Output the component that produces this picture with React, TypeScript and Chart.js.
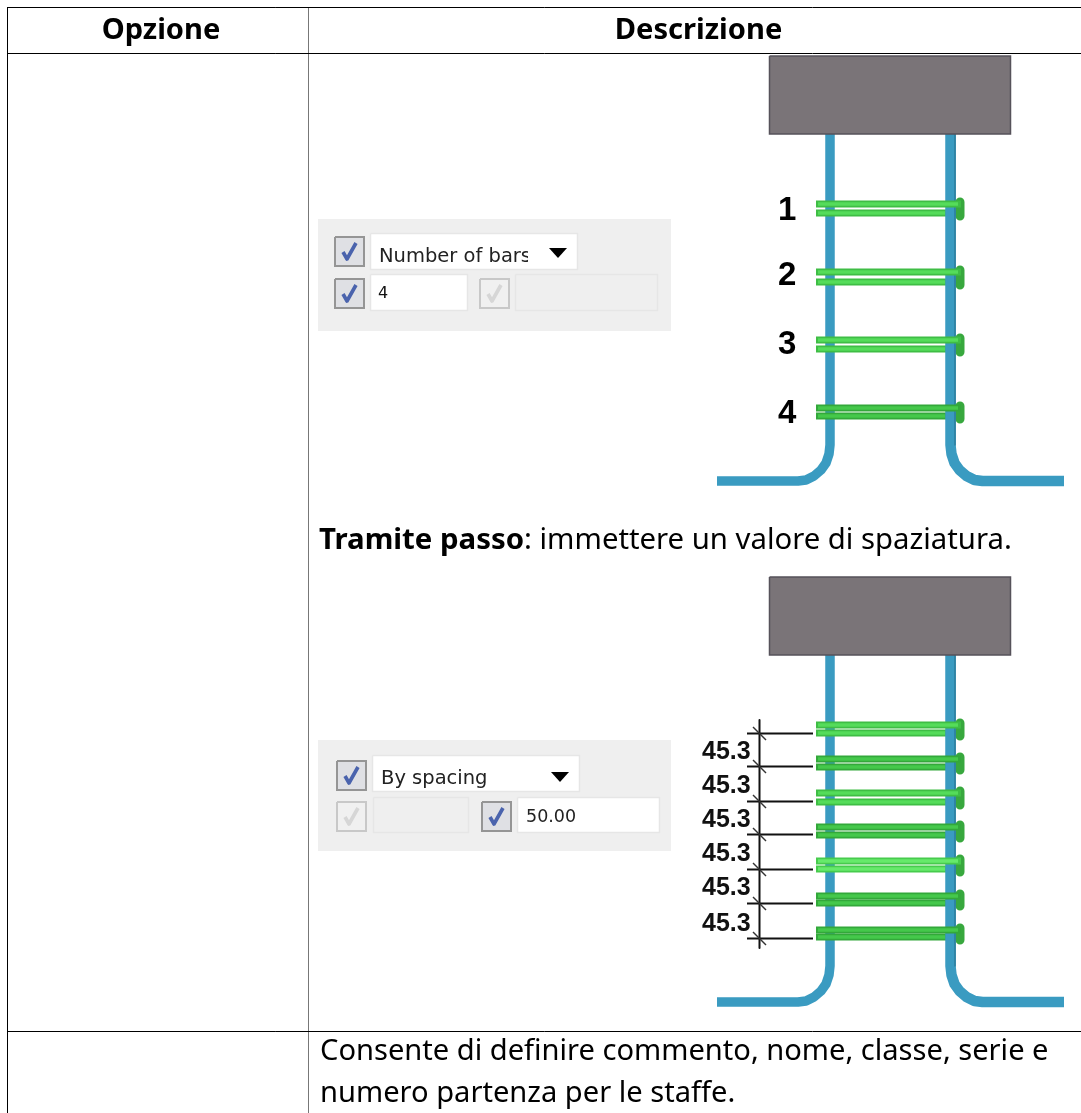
import React, { useEffect, useRef } from "react";
import { Chart, registerables } from "chart.js";

Chart.register(...registerables);

type P = { x: number; y: number };
const pts = (a: number[][]): P[] => a.map(([x, y]) => ({ x, y }));
const rect = (x0: number, y0: number, x1: number, y1: number) =>
  pts([[x0, y0], [x1, y0], [x1, y1], [x0, y1], [x0, y0]]);

const headers = ["Opzione", "Descrizione"];
const bodyLines = [
  "Consente di definire commento, nome, classe, serie e",
  "numero partenza per le staffe.",
];
const tramiteBold = "Tramite passo";
const tramiteRest = ": immettere un valore di spaziatura.";

const gridDark = [
  [[7.5, 7.5], [1081, 7.5]],
  [[7.5, 53.5], [1081, 53.5]],
  [[7.5, 1031.5], [1081, 1031.5]],
  [[7.5, 7], [7.5, 1113]],
];
const gridGray = [[[308.5, 8], [308.5, 1113]]];

const boxTops = [56, 577];
const boxBottoms = [134, 655];
const baseYs = [481, 1002];
const stirrupsA = [[204, 213, 0], [272, 282, 0], [340, 349, 0], [408, 416, 1]];
const stirrupsB = [
  [725, 733, 0], [759, 767, 1], [793, 802, 0], [827, 835, 1],
  [861, 869, 2], [896, 903, 1], [930, 937, 1],
];
const ordinalLabels = ["1", "2", "3", "4"];
const ordinalBaselines = [220, 285, 354, 423];
const dimTicks = [733, 766, 801, 834, 869, 903, 938];
const dimLabel = "45.3";
const dimBaselines = [759, 793, 827, 861, 895, 931];

function buildDatasets() {
  const ds: any[] = [];
  const line = (data: P[], color: string, width: number, extra: any = {}) =>
    ds.push({
      type: "line",
      data,
      borderColor: color,
      borderWidth: width,
      pointRadius: 0,
      tension: 0,
      borderCapStyle: "butt",
      borderJoinStyle: "round",
      fill: false,
      clip: false,
      ...extra,
    });
  const soft = (data: P[], color: string, width: number, extra: any = {}) =>
    line(data, color, width, { soft: true, ...extra });
  const shape = (data: P[], bg: string, border: string, width = 1) =>
    line(data, border, width, { fill: "shape", backgroundColor: bg, borderJoinStyle: "miter" });

  const checkbox = (x: number, y: number, on: boolean) => {
    shape(rect(x + 1, y + 1, x + 30, y + 30), on ? "#dfe0e4" : "#f0f0f0", on ? "#959595" : "#c8c8c8", 2);
    soft(pts([[x + 9, y + 16], [x + 13, y + 23], [x + 22, y + 7]]), on ? "#4a63ad" : "#d6d6d6", 3.6);
  };
  const field = (x0: number, y0: number, x1: number, y1: number, on: boolean) =>
    shape(rect(x0 + 0.5, y0 + 0.5, x1 - 0.5, y1 - 0.5), on ? "#ffffff" : "#efefef", "#e6e6e6", 1.5);

  shape(rect(318, 219, 671, 331), "#efefef", "#efefef", 0);
  checkbox(334, 236, true);
  field(370, 233, 578, 270, true);
  checkbox(334, 278, true);
  field(370, 274, 468, 311, true);
  checkbox(479, 278, false);
  field(515, 274, 658, 311, false);
  shape(pts([[549, 248], [567, 248], [558, 258], [549, 248]]), "#000", "#000", 0);

  shape(rect(318, 740, 671, 851), "#efefef", "#efefef", 0);
  checkbox(336, 760, true);
  field(372, 755, 580, 792, true);
  checkbox(336, 801, false);
  field(373, 797, 469, 833, false);
  checkbox(481, 801, true);
  field(517, 797, 660, 833, true);
  shape(pts([[551, 772], [569, 772], [560, 782], [551, 772]]), "#000", "#000", 0);

  const blue = "#3a9bc1";
  const diagram = (i: number, stirrups: number[][]) => {
    const b = baseYs[i];
    const top = boxBottoms[i];
    soft(
      pts([[830, top], [830, b - 36], [829, b - 27], [826, b - 18], [821, b - 11], [814, b - 5], [806, b - 1], [798, b], [717, b]]),
      blue,
      9.5,
    );
    const colors = [
      ["#3fbd45", "#55dc5a"],
      ["#33a83a", "#45c84b"],
      ["#47cb4d", "#66ea6b"],
    ];
    stirrups.forEach(([t, bt, k]) => {
      const c = colors[k];
      soft(pts([[816, bt], [960, bt]]), c[0], 7);
      soft(pts([[818, bt], [945, bt]]), c[1], 3.5);
      soft(pts([[960, t - 2], [960, bt + 3]]), "#38a83e", 9);
    });
    soft(
      pts([[950.5, top], [950.5, b - 36], [951.5, b - 27], [954.5, b - 18], [959.5, b - 11], [966.5, b - 5], [974.5, b - 1], [982.5, b], [1064, b]]),
      blue,
      10.5,
    );
    soft(pts([[955, top], [955, b - 36]]), "#2c7f9f", 1.6);
    stirrups.forEach(([t, , k]) => {
      const c = colors[k];
      soft(pts([[816, t], [961, t]]), c[0], 7);
      soft(pts([[818, t], [958, t]]), c[1], 3.5);
    });
    shape(rect(769.5, boxTops[i], 1010.5, top), "#7a7478", "#56525a", 1.5);
  };
  diagram(0, stirrupsA);
  diagram(1, stirrupsB);

  soft(pts([[759.5, 720], [759.5, 948]]), "#111", 2);
  dimTicks.forEach((y) => {
    soft(pts([[747, y + 0.5], [813, y + 0.5]]), "#111", 1.8);
    soft(pts([[753, y - 6], [766, y + 7]]), "#333", 1.4);
  });

  gridGray.forEach((s) => line(pts(s), "#777", 1));
  gridDark.forEach((s) => line(pts(s), "#000", 1));
  return ds;
}

const softPlugin = {
  id: "softLines",
  beforeDatasetDraw(chart: any, args: any) {
    if (chart.data.datasets[args.index].soft) chart.ctx.filter = "blur(0.5px)";
  },
  afterDatasetDraw(chart: any) {
    chart.ctx.filter = "none";
  },
};

const textPlugin = {
  id: "tableText",
  afterDatasetsDraw(chart: any) {
    const { ctx, scales } = chart;
    const X = (v: number) => scales.x.getPixelForValue(v);
    const Y = (v: number) => scales.y.getPixelForValue(v);
    const put = (s: string, x: number, y: number, font: string, color = "#000", align: CanvasTextAlign = "left") => {
      ctx.font = font;
      ctx.fillStyle = color;
      ctx.textAlign = align;
      ctx.textBaseline = "alphabetic";
      ctx.fillText(s, X(x), Y(y));
    };
    ctx.save();
    const body = '29.1px "Noto Sans"';
    const bold = 'bold 29.1px "Noto Sans"';
    put(headers[0], 161, 39, bold, "#000", "center");
    put(headers[1], 698.5, 39, bold, "#000", "center");
    put(tramiteBold, 319, 549, 'bold 29.4px "Noto Sans"');
    const w = ctx.measureText(tramiteBold).width;
    put(tramiteRest, 319 + w, 549, '29.3px "Noto Sans"');
    put(bodyLines[0], 320, 1060, body);
    put(bodyLines[1], 320, 1102, body);

    ctx.filter = "blur(0.45px)";
    ordinalLabels.forEach((s, i) => put(s, 778, ordinalBaselines[i], 'bold 33px "Liberation Sans"'));
    dimBaselines.forEach((y) => put(dimLabel, 702, y, 'bold 25px "Liberation Sans"', "#111"));

    const ui = '19.5px "DejaVu Sans"';
    ctx.save();
    ctx.beginPath();
    ctx.rect(X(375), Y(235), 153, 32);
    ctx.clip();
    put("Number of bars", 379, 262, ui, "#222");
    ctx.restore();
    put("4", 378, 298, '16px "DejaVu Sans"', "#111");
    put("By spacing", 381, 784, ui, "#222");
    put("50.00", 526, 822, '17.5px "DejaVu Sans"', "#222");
    ctx.restore();
  },
};

export default function App() {
  const ref = useRef<HTMLCanvasElement>(null);
  useEffect(() => {
    const list = buildDatasets();
    list.forEach((d, i) => (d.order = list.length - i));
    const chart = new Chart(ref.current!, {
      type: "line",
      data: { datasets: list },
      options: {
        animation: false,
        responsive: false,
        events: [],
        layout: { padding: 0 },
        plugins: { legend: { display: false }, tooltip: { enabled: false }, title: { display: false } },
        scales: {
          x: { type: "linear", min: 0, max: 1081, display: false },
          y: { type: "linear", min: 0, max: 1113, reverse: true, display: false },
        },
      },
      plugins: [softPlugin, textPlugin],
    } as any);
    return () => chart.destroy();
  }, []);
  return (
    <div style={{ position: "absolute", left: 0, top: 0, width: 1081, height: 1113, background: "#fff", overflow: "hidden" }}>
      <canvas ref={ref} width={1081} height={1113} style={{ display: "block", width: 1081, height: 1113 }} />
    </div>
  );
}
